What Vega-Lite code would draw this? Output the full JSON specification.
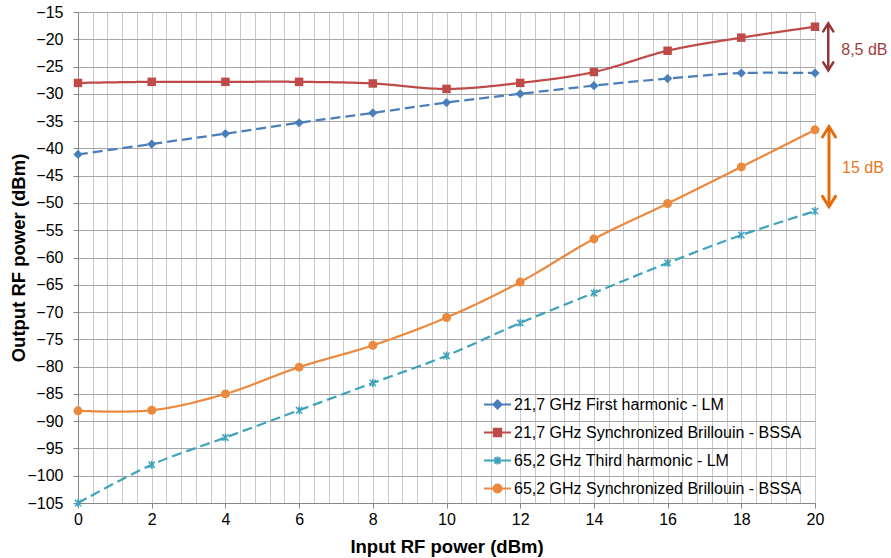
{
  "$schema": "https://vega.github.io/schema/vega-lite/v6.json",
  "width": 737,
  "height": 491,
  "autosize": "none",
  "padding": {"left": 78, "top": 12, "right": 76, "bottom": 55},
  "background": "white",
  "config": {
    "font": "Liberation Sans",
    "view": {"stroke": null}
  },
  "datasets": {
    "main": [
      {"series": "21,7 GHz First harmonic - LM", "x": 0, "y": -41.1},
      {"series": "21,7 GHz First harmonic - LM", "x": 2, "y": -39.2},
      {"series": "21,7 GHz First harmonic - LM", "x": 4, "y": -37.3},
      {"series": "21,7 GHz First harmonic - LM", "x": 6, "y": -35.3},
      {"series": "21,7 GHz First harmonic - LM", "x": 8, "y": -33.5},
      {"series": "21,7 GHz First harmonic - LM", "x": 10, "y": -31.6},
      {"series": "21,7 GHz First harmonic - LM", "x": 12, "y": -30.0},
      {"series": "21,7 GHz First harmonic - LM", "x": 14, "y": -28.5},
      {"series": "21,7 GHz First harmonic - LM", "x": 16, "y": -27.2},
      {"series": "21,7 GHz First harmonic - LM", "x": 18, "y": -26.2},
      {"series": "21,7 GHz First harmonic - LM", "x": 20, "y": -26.2},
      {"series": "21,7 GHz Synchronized Brillouin - BSSA", "x": 0, "y": -28.0},
      {"series": "21,7 GHz Synchronized Brillouin - BSSA", "x": 2, "y": -27.8},
      {"series": "21,7 GHz Synchronized Brillouin - BSSA", "x": 4, "y": -27.8},
      {"series": "21,7 GHz Synchronized Brillouin - BSSA", "x": 6, "y": -27.8},
      {"series": "21,7 GHz Synchronized Brillouin - BSSA", "x": 8, "y": -28.1},
      {"series": "21,7 GHz Synchronized Brillouin - BSSA", "x": 10, "y": -29.1},
      {"series": "21,7 GHz Synchronized Brillouin - BSSA", "x": 12, "y": -28.0},
      {"series": "21,7 GHz Synchronized Brillouin - BSSA", "x": 14, "y": -26.0},
      {"series": "21,7 GHz Synchronized Brillouin - BSSA", "x": 16, "y": -22.1},
      {"series": "21,7 GHz Synchronized Brillouin - BSSA", "x": 18, "y": -19.7},
      {"series": "21,7 GHz Synchronized Brillouin - BSSA", "x": 20, "y": -17.7},
      {"series": "65,2 GHz Third harmonic - LM", "x": 0, "y": -105.0},
      {"series": "65,2 GHz Third harmonic - LM", "x": 2, "y": -98.0},
      {"series": "65,2 GHz Third harmonic - LM", "x": 4, "y": -93.0},
      {"series": "65,2 GHz Third harmonic - LM", "x": 6, "y": -88.0},
      {"series": "65,2 GHz Third harmonic - LM", "x": 8, "y": -83.0},
      {"series": "65,2 GHz Third harmonic - LM", "x": 10, "y": -78.0},
      {"series": "65,2 GHz Third harmonic - LM", "x": 12, "y": -72.0},
      {"series": "65,2 GHz Third harmonic - LM", "x": 14, "y": -66.5},
      {"series": "65,2 GHz Third harmonic - LM", "x": 16, "y": -61.0},
      {"series": "65,2 GHz Third harmonic - LM", "x": 18, "y": -55.9},
      {"series": "65,2 GHz Third harmonic - LM", "x": 20, "y": -51.5},
      {"series": "65,2 GHz Synchronized Brillouin - BSSA", "x": 0, "y": -88.1},
      {"series": "65,2 GHz Synchronized Brillouin - BSSA", "x": 2, "y": -88.0},
      {"series": "65,2 GHz Synchronized Brillouin - BSSA", "x": 4, "y": -85.0},
      {"series": "65,2 GHz Synchronized Brillouin - BSSA", "x": 6, "y": -80.1},
      {"series": "65,2 GHz Synchronized Brillouin - BSSA", "x": 8, "y": -76.1},
      {"series": "65,2 GHz Synchronized Brillouin - BSSA", "x": 10, "y": -71.0},
      {"series": "65,2 GHz Synchronized Brillouin - BSSA", "x": 12, "y": -64.5},
      {"series": "65,2 GHz Synchronized Brillouin - BSSA", "x": 14, "y": -56.6},
      {"series": "65,2 GHz Synchronized Brillouin - BSSA", "x": 16, "y": -50.1},
      {"series": "65,2 GHz Synchronized Brillouin - BSSA", "x": 18, "y": -43.4},
      {"series": "65,2 GHz Synchronized Brillouin - BSSA", "x": 20, "y": -36.6}
    ],
    "legendRows": [
      {"series": "21,7 GHz First harmonic - LM"},
      {"series": "21,7 GHz Synchronized Brillouin - BSSA"},
      {"series": "65,2 GHz Third harmonic - LM"},
      {"series": "65,2 GHz Synchronized Brillouin - BSSA"}
    ],
    "ann": [
      {"name": "red", "x": 20.36, "y": -17.1, "y2": -25.7, "mid": -22.0, "label": "8,5 dB"},
      {"name": "orange", "x": 20.38, "y": -36.0, "y2": -50.7, "mid": -43.6, "label": "15 dB"}
    ]
  },
  "encoding": {
    "x": {
      "field": "x", "type": "quantitative",
      "scale": {"domain": [0, 20], "nice": false, "zero": false},
      "axis": {
        "values": [0,0.4,0.8,1.2,1.6,2,2.4,2.8,3.2,3.6,4,4.4,4.8,5.2,5.6,6,6.4,6.8,7.2,7.6,8,8.4,8.8,9.2,9.6,10,10.4,10.8,11.2,11.6,12,12.4,12.8,13.2,13.6,14,14.4,14.8,15.2,15.6,16,16.4,16.8,17.2,17.6,18,18.4,18.8,19.2,19.6,20],
        "grid": true, "gridColor": "#C8C8C8", "gridWidth": 1,
        "domainColor": "#868686", "domainWidth": 1,
        "ticks": true, "tickSize": 5, "tickColor": "#868686",
        "tickOpacity": {"condition": {"test": "abs(datum.value/2 - round(datum.value/2)) < 0.01", "value": 1}, "value": 0},
        "labelExpr": "abs(datum.value/2 - round(datum.value/2)) < 0.01 ? format(datum.value, 'd') : ''",
        "labelFontSize": 16, "labelColor": "#000000", "labelPadding": 3, "labelFlush": false, "labelOverlap": false,
        "title": "Input RF power (dBm)", "titleFontSize": 18.5, "titleFontWeight": "bold", "titleColor": "#000000",
        "titleX": 368.5, "titleY": 43, "titleAlign": "center", "titleBaseline": "middle"
      }
    },
    "y": {
      "field": "y", "type": "quantitative",
      "scale": {"domain": [-105, -15], "nice": false, "zero": false},
      "axis": {
        "values": [-105,-100,-95,-90,-85,-80,-75,-70,-65,-60,-55,-50,-45,-40,-35,-30,-25,-20,-15],
        "grid": true, "gridColor": "#A6A6A6", "gridWidth": 1,
        "domainColor": "#868686", "domainWidth": 1,
        "ticks": true, "tickSize": 5, "tickColor": "#868686",
        "labelFontSize": 16, "labelColor": "#000000", "labelPadding": 10, "labelFlush": false, "labelOverlap": false,
        "title": "Output RF power (dBm)", "titleFontSize": 18.5, "titleFontWeight": "bold", "titleColor": "#000000",
        "titleX": -60, "titleY": 245.5, "titleAngle": -90, "titleAlign": "center", "titleBaseline": "middle"
      }
    }
  },
  "layer": [
    {
      "data": {"name": "main"},
      "mark": {"type": "line", "interpolate": "catmull-rom", "strokeWidth": 2.25},
      "encoding": {
        "color": {
          "field": "series", "type": "nominal", "legend": null,
          "scale": {"range": ["#4A7EBB", "#BE4B48", "#EB8A3F", "#3FA3BC"]}
        },
        "strokeDash": {
          "field": "series", "type": "nominal", "legend": null,
          "scale": {"range": [[10, 5], [1, 0], [1, 0], [10, 5]]}
        }
      }
    },
    {
      "data": {"name": "main"},
      "transform": [{"filter": "datum.series === '21,7 GHz First harmonic - LM'"}],
      "mark": {"type": "point", "shape": "diamond", "filled": true, "size": 85, "color": "#4A7EBB", "opacity": 1}
    },
    {
      "data": {"name": "main"},
      "transform": [{"filter": "datum.series === '21,7 GHz Synchronized Brillouin - BSSA'"}],
      "mark": {"type": "point", "shape": "square", "filled": true, "size": 72, "color": "#BE4B48", "opacity": 1}
    },
    {
      "data": {"name": "main"},
      "transform": [{"filter": "datum.series === '65,2 GHz Third harmonic - LM'"}],
      "mark": {"type": "point", "shape": "M-1,-1L1,1M-1,1L1,-1M0,-1.3V1.3", "filled": false, "size": 40, "strokeWidth": 1.5, "color": "#3FA3BC", "opacity": 1}
    },
    {
      "data": {"name": "main"},
      "transform": [{"filter": "datum.series === '65,2 GHz Synchronized Brillouin - BSSA'"}],
      "mark": {"type": "point", "shape": "circle", "filled": true, "size": 80, "color": "#EB8A3F", "opacity": 1}
    },
    {
      "data": {"name": "ann"},
      "mark": {"type": "rule", "clip": false},
      "encoding": {
        "y2": {"field": "y2"},
        "color": {"condition": {"test": "datum.name === 'red'", "value": "#943634"}, "value": "#E46C0A"},
        "strokeWidth": {"condition": {"test": "datum.name === 'red'", "value": 2.5}, "value": 3}
      }
    },
    {
      "data": {"name": "ann"},
      "mark": {"type": "point", "filled": false, "clip": false, "shape": "M-1,1.6L0,0L1,1.6", "opacity": 1, "strokeCap": "round"},
      "encoding": {
        "color": {"condition": {"test": "datum.name === 'red'", "value": "#943634"}, "value": "#E46C0A"},
        "strokeWidth": {"condition": {"test": "datum.name === 'red'", "value": 2.5}, "value": 3},
        "size": {"condition": {"test": "datum.name === 'red'", "value": 100}, "value": 169}
      }
    },
    {
      "data": {"name": "ann"},
      "mark": {"type": "point", "filled": false, "clip": false, "shape": "M-1,-1.6L0,0L1,-1.6", "opacity": 1, "strokeCap": "round"},
      "encoding": {
        "y": {"field": "y2", "type": "quantitative"},
        "color": {"condition": {"test": "datum.name === 'red'", "value": "#943634"}, "value": "#E46C0A"},
        "strokeWidth": {"condition": {"test": "datum.name === 'red'", "value": 2.5}, "value": 3},
        "size": {"condition": {"test": "datum.name === 'red'", "value": 100}, "value": 169}
      }
    },
    {
      "data": {"name": "ann"},
      "mark": {"type": "text", "align": "left", "baseline": "middle", "dx": 13, "fontSize": 16, "clip": false},
      "encoding": {
        "y": {"field": "mid", "type": "quantitative"},
        "text": {"field": "label"},
        "color": {"condition": {"test": "datum.name === 'red'", "value": "#A0403C"}, "value": "#E8771E"}
      }
    },
    {
      "data": {"name": "legendRows"},
      "mark": {"type": "point", "filled": true, "size": 0, "strokeWidth": 0, "opacity": 1},
      "encoding": {
        "x": {"value": 0},
        "y": {"value": 0},
        "fill": {
          "field": "series", "type": "nominal",
          "scale": {
            "domain": ["21,7 GHz First harmonic - LM", "21,7 GHz Synchronized Brillouin - BSSA", "65,2 GHz Third harmonic - LM", "65,2 GHz Synchronized Brillouin - BSSA"],
            "range": ["#4A7EBB", "#BE4B48", "#3FA3BC", "#EB8A3F"]
          },
          "legend": {
            "orient": "none", "legendX": 405, "legendY": 378, "title": null,
            "symbolSize": 729, "symbolStrokeWidth": 2, "symbolOpacity": 1,
            "labelFontSize": 16, "labelColor": "#000000", "labelOffset": 2, "labelLimit": 400,
            "rowPadding": 5, "padding": 0
          }
        },
        "stroke": {
          "field": "series", "type": "nominal",
          "scale": {
            "domain": ["21,7 GHz First harmonic - LM", "21,7 GHz Synchronized Brillouin - BSSA", "65,2 GHz Third harmonic - LM", "65,2 GHz Synchronized Brillouin - BSSA"],
            "range": ["#4A7EBB", "#BE4B48", "#3FA3BC", "#EB8A3F"]
          }
        },
        "shape": {
          "field": "series", "type": "nominal",
          "scale": {
            "domain": ["21,7 GHz First harmonic - LM", "21,7 GHz Synchronized Brillouin - BSSA", "65,2 GHz Third harmonic - LM", "65,2 GHz Synchronized Brillouin - BSSA"],
            "range": [
              "M-1,0H-0.3M0.3,0H1M0,-0.3L0.3,0L0,0.3L-0.3,0Z",
              "M-1,0H1M-0.27,-0.27H0.27V0.27H-0.27Z",
              "M-1,0H1M-0.22,-0.22L0.22,0.22M-0.22,0.22L0.22,-0.22M0,-0.3V0.3",
              "M-1,0H1M-0.3,0A0.3,0.3 0 1,0 0.3,0A0.3,0.3 0 1,0 -0.3,0Z"
            ]
          }
        }
      }
    }
  ]
}
